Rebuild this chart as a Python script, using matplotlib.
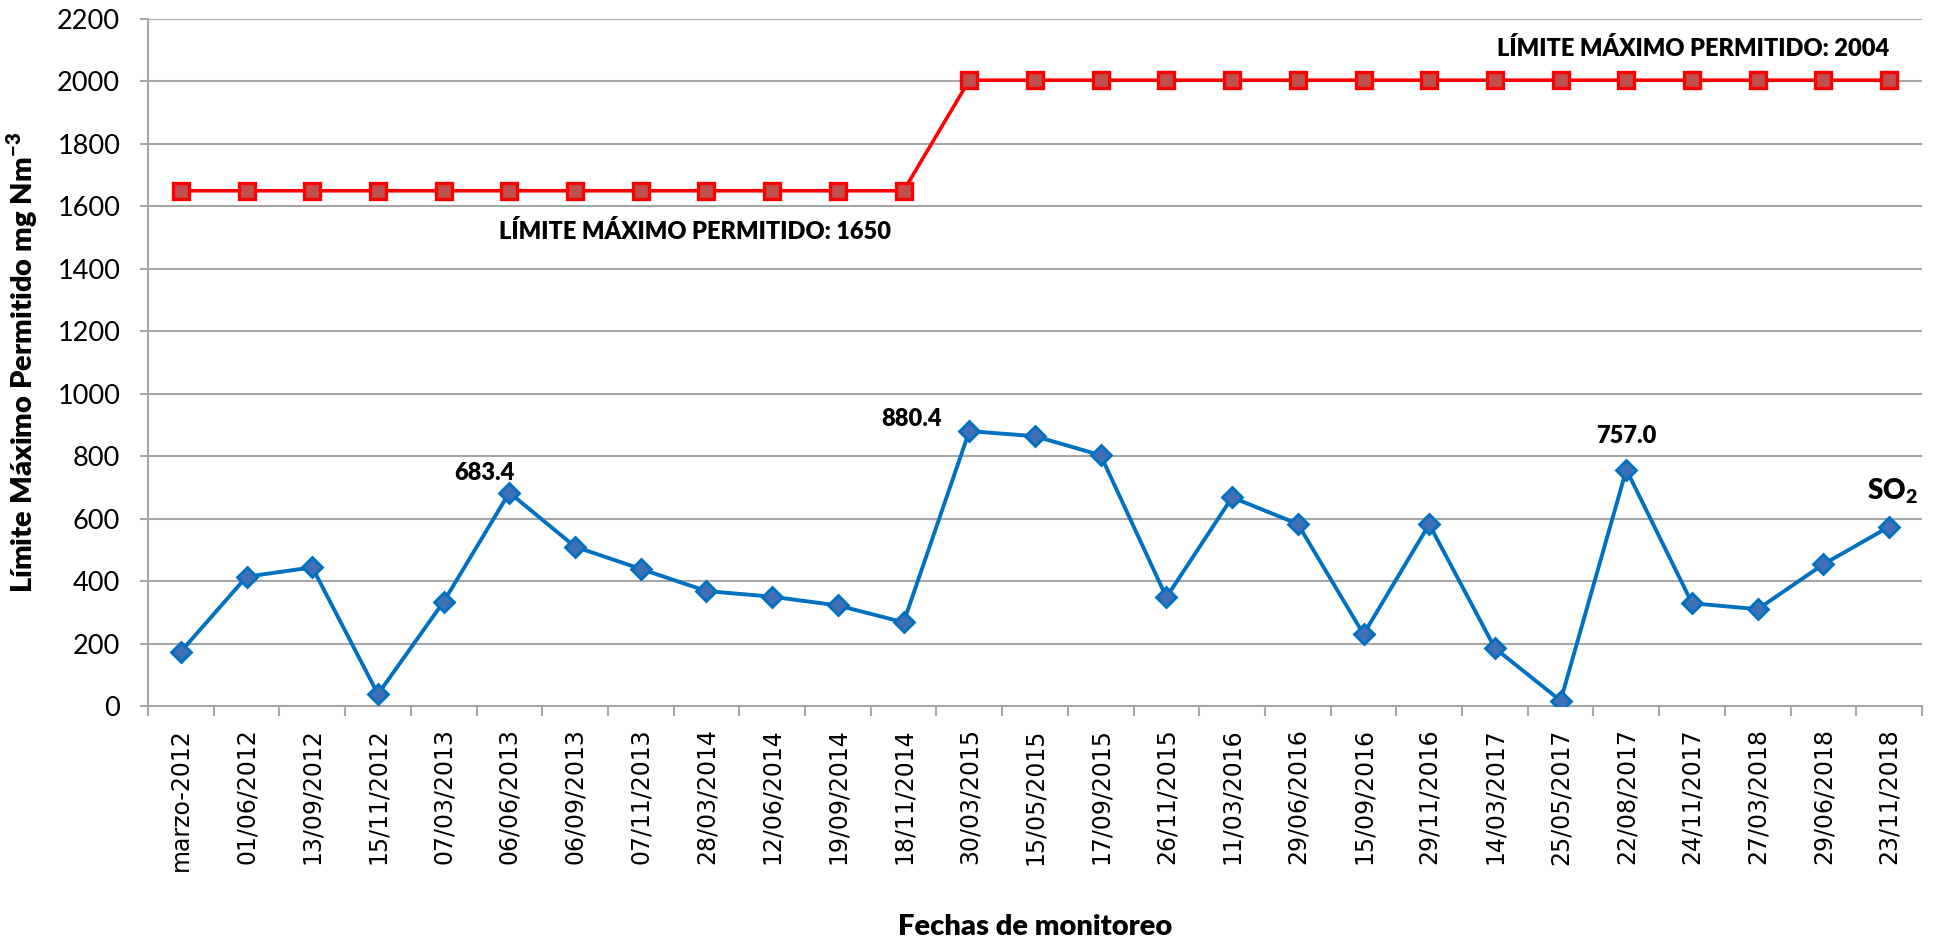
import matplotlib
matplotlib.use("Agg")
import matplotlib.pyplot as plt
import numpy as np

# datos
fechas = ['marzo-2012', '01/06/2012', '13/09/2012', '15/11/2012', '07/03/2013',
          '06/06/2013', '06/09/2013', '07/11/2013', '28/03/2014', '12/06/2014',
          '19/09/2014', '18/11/2014', '30/03/2015', '15/05/2015', '17/09/2015',
          '26/11/2015', '11/03/2016', '29/06/2016', '15/09/2016', '29/11/2016',
          '14/03/2017', '25/05/2017', '22/08/2017', '24/11/2017', '27/03/2018',
          '29/06/2018', '23/11/2018']
so2 = [174, 414, 444, 38, 334, 683.4, 510, 439, 368, 350, 322, 268, 880.4, 864,
       803, 348, 668, 583, 230, 582, 185, 17, 757.0, 329, 310, 454, 574]
limite = [1650] * 12 + [2004] * 15

# valores con etiqueta: indice, texto, desplazamiento en pixeles
etiquetas = [(5, '683.4', (-25, 20)), (12, '880.4', (-58, 12)), (22, '757.0', (0, 34))]

W = 'heavy'
plt.rcParams['mathtext.fontset'] = 'custom'
plt.rcParams['mathtext.rm'] = 'Lato'
plt.rcParams['mathtext.bf'] = 'Lato:heavy'

fig = plt.figure(figsize=(19.36, 9.4), dpi=100)
ax = fig.add_axes([148 / 1936, 1 - 706 / 940, 1774 / 1936, 687 / 940])

x = np.arange(len(fechas))
gris = '#A6A6A6'

ax.plot(x, limite, color='#FF0000', lw=2.6, marker='s', markersize=11,
        markerfacecolor='#C0504D', markeredgecolor='#FF0000', markeredgewidth=2.4, zorder=3)
ax.plot(x, so2, color='#0070C0', lw=2.8, marker='D', markersize=10,
        markerfacecolor='#3F6FB5', markeredgecolor='#0070C0', markeredgewidth=2, zorder=3)

for i, txt, off in etiquetas:
    ax.annotate(txt, (x[i], so2[i]), xytext=off, textcoords='offset pixels',
                ha='center', va='center', fontsize=17, fontweight=W, family='Lato')
ax.annotate(r'SO$_\mathbf{2}$', (x[-1], so2[-1]), xytext=(3, 36), textcoords='offset pixels',
            ha='center', va='center', fontsize=20, fontweight=W, family='Lato')

ax.text(7.83, 1518, 'LÍMITE MÁXIMO PERMITIDO: 1650', ha='center', va='center',
        fontsize=17, fontweight=W, family='Lato')
ax.text(23.02, 2107, 'LÍMITE MÁXIMO PERMITIDO: 2004', ha='center', va='center',
        fontsize=17, fontweight=W, family='Lato')

# ejes
ax.set_xlim(-0.5, len(fechas) - 0.5)
ax.set_ylim(0, 2200)
ax.set_yticks(np.arange(0, 2201, 200))
ax.set_xticks(x)
ax.set_xticklabels(fechas, rotation=90, fontsize=17, family='DejaVu Sans')
ax.set_xticks(np.arange(-0.5, len(fechas), 1), minor=True)
ax.tick_params(axis='x', which='major', length=0, pad=16)
ax.tick_params(axis='x', which='minor', length=7, width=1.5, color=gris)
ax.tick_params(axis='y', length=6, width=1.5, color=gris, pad=14, labelsize=19.5)
for lab in ax.get_yticklabels():
    lab.set_family('Lato')

ax.grid(axis='y', color=gris, lw=1.5)
ax.set_axisbelow(True)
for s in ['top', 'right']:
    ax.spines[s].set_visible(False)
for s in ['left', 'bottom']:
    ax.spines[s].set_color(gris)
    ax.spines[s].set_linewidth(1.5)

ax.set_xlabel('Fechas de monitoreo', fontsize=21, fontweight=W, family='Lato')
ax.xaxis.set_label_coords(0.5, -0.303)
ax.set_ylabel(r'Límite Máximo Permitido mg Nm$^{\mathbf{-3}}$', fontsize=21,
              fontweight=W, family='Lato')
ax.yaxis.set_label_coords(-0.071, 0.5)
ax.yaxis.label.set_va('center')

fig.savefig('out.png', dpi=100)
